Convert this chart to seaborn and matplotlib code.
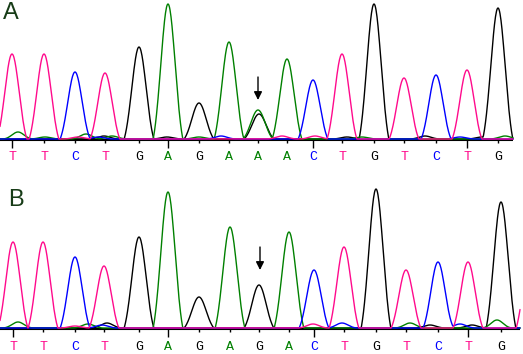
import numpy as np
import pandas as pd
import matplotlib
matplotlib.use('Agg')
import matplotlib.pyplot as plt
import seaborn as sns

# --- 資料 (峰位置 x 為像素, 高度為距基線的像素) ---
bases_a = list("TTCTGAGAAACTGTCTG")
pos_a = [12, 44, 75, 105, 139, 168, 199, 229, 258, 287, 313, 342, 374, 404, 436, 467, 498]
height_a = [85, 85, 67, 66, 92, 135, 36, 97, 29, 80, 59, 85, 135, 61, 64, 69, 131]
# 混合峰 (A 位置的次要 G 峰) 與邊緣外的峰
extra_a_base = ['G', 'T']
extra_a_pos = [259, 530]
extra_a_height = [25, 85]
# 背景小峰
noise_a_base = ['A', 'A', 'A', 'T', 'G', 'C', 'A', 'G', 'A', 'C', 'T', 'T', 'G', 'A', 'G', 'C', 'G', 'A']
noise_a_pos = [18, 45, 86, 78, 104, 98, 112, 167, 199, 221, 282, 315, 347, 362, 425, 460, 482, 505]
noise_a_height = [7, 2, 5, 2, 3, 2, 3, 2, 2, 3, 3, 3, 2, 2, 3, 2, 2, 3]

bases_b = list("TTCTGAGAGACTGTCTG")
pos_b = [13, 43, 75, 104, 139, 168, 199, 230, 259, 289, 314, 344, 376, 406, 438, 468, 501]
height_b = [86, 86, 71, 62, 91, 136, 31, 101, 43, 96, 58, 81, 139, 58, 66, 66, 126]
extra_b_base = ['T']
extra_b_pos = [531]
extra_b_height = [85]
noise_b_base = ['A', 'T', 'A', 'G', 'C', 'T', 'C', 'A', 'G', 'C', 'G', 'A']
noise_b_pos = [18, 75, 88, 107, 102, 313, 342, 410, 430, 460, 472, 497]
noise_b_height = [6, 2, 4, 5, 3, 4, 5, 5, 3, 4, 3, 8]

colors = {'A': '#008000', 'C': '#0000ff', 'G': '#000000', 'T': '#ff0a8c'}
label_color = '#173c17'


def peak(x, mu, h, s=7.2, c=0.12):
    y = (np.exp(-(x - mu) ** 2 / (2 * s * s)) - c) / (1 - c)
    return h * np.clip(y, 0, None)


def traces(x, bases, pos, heights, extra, noise):
    out = {b: np.zeros_like(x) for b in 'ACGT'}
    for b, p, h in zip(bases, pos, heights):
        out[b] += peak(x, p, h)
    for b, p, h in zip(*extra):
        out[b] += peak(x, p, h)
    for b, p, h in zip(*noise):
        out[b] += peak(x, p, h, s=6.0, c=0.05)
    return out


def draw_panel(ax, letter, letter_xy, bases, pos, heights, extra, noise, x_end, arrow_x, arrow_y):
    x = np.arange(0, x_end + 0.25, 0.5)
    tr = traces(x, bases, pos, heights, extra, noise)
    ax.hlines(-0.8, 0, x_end, color='black', lw=1.5, zorder=1)
    for b in ['G', 'A', 'C', 'T']:
        sns.lineplot(x=x, y=tr[b], color=colors[b], lw=1.0, ax=ax,
                     estimator=None, sort=False, zorder=2)
    # 刻度線: 每 5 個鹼基一條長線
    for i, p in enumerate(pos):
        ax.vlines(p, -1, -9 if i % 5 == 0 else -4, color='black', lw=1.0)
        ax.text(p, -18.5, bases[i], color=colors[bases[i]], ha='center', va='center',
                fontsize=9.5, family='Liberation Mono')
    ax.annotate('', xy=(arrow_x, arrow_y[1]), xytext=(arrow_x, arrow_y[0]),
                arrowprops=dict(arrowstyle='-|>', color='black', lw=1.0,
                                mutation_scale=12, shrinkA=0, shrinkB=0))
    ax.text(letter_xy[0], letter_xy[1], letter, transform=ax.transAxes, fontsize=17,
            color=label_color, family='Liberation Sans', va='top', ha='left')
    ax.set_xlim(0, 523)
    ax.set_axis_off()


sns.set_style('white')
fig = plt.figure(figsize=(5.23, 3.54), dpi=100)

ax_a = fig.add_axes([0, 177 / 354, 1, 177 / 354])
ax_a.set_ylim(-38, 139)
draw_panel(ax_a, 'A', (0.006, 0.99), bases_a, pos_a, height_a,
           (extra_a_base, extra_a_pos, extra_a_height),
           (noise_a_base, noise_a_pos, noise_a_height),
           513, 258, (62, 39))

ax_b = fig.add_axes([0, 0, 1, 177 / 354])
ax_b.set_ylim(-26, 151)
draw_panel(ax_b, 'B', (0.015, 0.935), bases_b, pos_b, height_b,
           (extra_b_base, extra_b_pos, extra_b_height),
           (noise_b_base, noise_b_pos, noise_b_height),
           520, 260, (81, 58))

fig.savefig('out.png', dpi=100)
